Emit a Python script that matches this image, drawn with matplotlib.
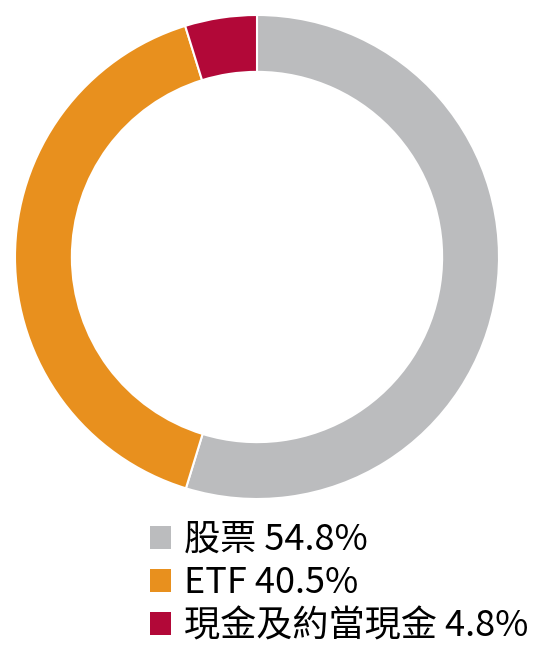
import matplotlib
matplotlib.use('Agg')
import matplotlib.pyplot as plt
from matplotlib.patches import Patch

plt.rcParams['font.family'] = ['Noto Sans CJK TC', 'DejaVu Sans']

# data
names = ['股票', 'ETF', '現金及約當現金']
shares = [54.8, 40.5, 4.8]
colors = ['#bbbcbe', '#e8901e', '#b20838']

W, H = 541, 653
fig = plt.figure(figsize=(W / 100, H / 100), dpi=100)

# donut, centre ~ (257, 257) px, outer radius ~242 px
ax = fig.add_axes([15 / W, (H - 499) / H, 484 / W, 484 / H])
ax.pie(shares, colors=colors, startangle=90, counterclock=False,
       radius=1.0,
       wedgeprops=dict(width=0.235, edgecolor='white', linewidth=1.5))
ax.set_xlim(-1, 1)
ax.set_ylim(-1, 1)
ax.set_aspect('equal')
ax.axis('off')

handles = [Patch(facecolor=c, edgecolor='none') for c in colors]
labels = [f'{n} {v}%' for n, v in zip(names, shares)]
fig.legend(handles, labels, loc='upper left',
           bbox_to_anchor=(150 / W, 1 - 522 / H),
           frameon=False, fontsize=26, handlelength=0.59, handleheight=0.59,
           handletextpad=0.34, labelspacing=0.2, borderpad=0, borderaxespad=0)

fig.savefig('out.png', dpi=100)
